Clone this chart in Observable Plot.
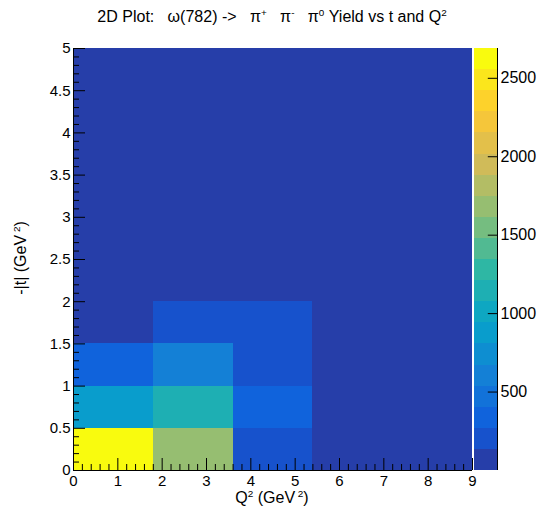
<!DOCTYPE html>
<html>
<head>
<meta charset="utf-8">
<script src="https://cdn.jsdelivr.net/npm/d3@7"></script>
<script src="https://cdn.jsdelivr.net/npm/@observablehq/plot@0.6"></script>
<style>
  html, body { margin: 0; padding: 0; background: #fff; }
  #wrap { position: relative; width: 541px; height: 509px; font-family: "Liberation Sans", Arial, sans-serif; color: #000; overflow: hidden; }
  #wrap svg { position: absolute; left: 0; top: 0; }
  .lbl { position: absolute; white-space: pre; line-height: 1; }
  .lbl sup { font-size: 0.62em; vertical-align: 0.6em; line-height: 0; }
</style>
</head>
<body>
<div id="wrap">
  <div class="lbl" id="title" style="left:272px; top:17px; transform:translate(-50%,-50%); font-size:16px;">2D Plot:   ω(782) -&gt;   π<sup>+</sup>   π<sup>-</sup>   π<sup>0</sup> Yield vs t and Q<sup>2</sup></div>
  <div class="lbl" id="xlabel" style="left:272px; top:498px; transform:translate(-50%,-50%); font-size:16px;">Q<sup>2</sup> (GeV<sup> 2</sup>)</div>
  <div class="lbl" id="ylabel" style="left:21px; top:258px; transform:translate(-50%,-50%) rotate(-90deg); font-size:16px;">-|t| (GeV<sup> 2</sup>)</div>
</div>
<script>
// ---- data ----
const qEdges = [0, 1.8, 3.6, 5.4, 7.2, 9];
const tEdges = [0, 0.5, 1, 1.5, 2, 2.5, 3, 3.5, 4, 4.5, 5];
// yields[tBin][qBin]
const yields = [
  [2690, 1690, 210, 0, 0],
  [870, 1150, 340, 0, 0],
  [330, 600, 190, 0, 0],
  [0, 180, 170, 0, 0],
  [0, 0, 0, 0, 0],
  [0, 0, 0, 0, 0],
  [0, 0, 0, 0, 0],
  [0, 0, 0, 0, 0],
  [0, 0, 0, 0, 0],
  [0, 0, 0, 0, 0]
];
const xMajor = [0, 1, 2, 3, 4, 5, 6, 7, 8, 9];
const yMajor = [0, 0.5, 1, 1.5, 2, 2.5, 3, 3.5, 4, 4.5, 5];
const zTicks = [500, 1000, 1500, 2000, 2500];
const nContours = 20;

// ---- palette (ROOT kBird) ----
const birdStops = [0, 0.125, 0.25, 0.375, 0.5, 0.625, 0.75, 0.875, 1];
const birdR = [0.2082, 0.0592, 0.0780, 0.0232, 0.1802, 0.5301, 0.8186, 0.9956, 0.9764];
const birdG = [0.1664, 0.3599, 0.5041, 0.6419, 0.7178, 0.7492, 0.7328, 0.7862, 0.9832];
const birdB = [0.5293, 0.8684, 0.8385, 0.7914, 0.6425, 0.4662, 0.3499, 0.1968, 0.0539];
function bird(f) {
  let k = 0;
  while (k < birdStops.length - 2 && f > birdStops[k + 1]) k++;
  const t = (f - birdStops[k]) / (birdStops[k + 1] - birdStops[k]);
  const c = (a) => Math.round(255 * (a[k] + (a[k + 1] - a[k]) * t));
  return `rgb(${c(birdR)},${c(birdG)},${c(birdB)})`;
}

const cells = [];
yields.forEach((row, ti) => row.forEach((v, qi) => {
  cells.push({q1: qEdges[qi], q2: qEdges[qi + 1], t1: tEdges[ti], t2: tEdges[ti + 1], v});
}));
const zMax = d3.max(yields.flat());
const step = zMax / nContours;
const thresholds = d3.range(1, nContours).map(i => i * step);
const bandColors = d3.range(nContours).map(i => bird(Math.min(1, (i + 0.99) / nContours)));
const bands = d3.range(nContours).map(i => ({lo: i * step, hi: (i + 1) * step, mid: (i + 0.5) * step}));
const colorOpts = {type: "threshold", domain: thresholds, range: bandColors};

const xMinor = d3.range(0, 45).map(i => i * 0.2).filter(v => Math.abs(v - Math.round(v)) > 1e-6);
const yMinor = d3.range(0, 50).map(i => +(i * 0.1).toFixed(1)).filter(v => Math.abs(v * 2 - Math.round(v * 2)) > 1e-6);

const fmt = d => String(d);
const main = Plot.plot({
  width: 541, height: 509,
  marginLeft: 73, marginRight: 69, marginTop: 48, marginBottom: 39,
  x: {domain: [0, 9], label: null},
  y: {domain: [0, 5], label: null},
  color: colorOpts,
  style: {fontFamily: "'Liberation Sans', Arial, sans-serif", fontSize: "15px", background: "transparent", color: "#000"},
  marks: [
    Plot.rect(cells, {x1: "q1", x2: "q2", y1: "t1", y2: "t2", fill: "v", shapeRendering: "crispEdges"}),
    Plot.axisX({ticks: xMinor, tickSize: -6, tickFormat: () => "", label: null, stroke: "#000"}),
    Plot.axisX({ticks: xMajor, tickSize: -12, tickFormat: () => "", label: null, stroke: "#000"}),
    Plot.axisX({ticks: xMajor, tickSize: 0, tickPadding: 5, tickFormat: fmt, label: null, fontSize: 15}),
    Plot.axisY({ticks: yMinor, tickSize: -6, tickFormat: () => "", label: null, stroke: "#000"}),
    Plot.axisY({ticks: yMajor, tickSize: -12, tickFormat: () => "", label: null, stroke: "#000"}),
    Plot.axisY({ticks: yMajor, tickSize: 0, tickPadding: 3, tickFormat: fmt, label: null, fontSize: 15}),
    Plot.ruleX([0], {stroke: "#000"}),
    Plot.ruleY([0], {stroke: "#000"})
  ]
});

const bar = Plot.plot({
  width: 541, height: 509,
  marginLeft: 474, marginRight: 44, marginTop: 48, marginBottom: 39,
  x: {domain: [0, 1], axis: null},
  y: {domain: [0, zMax], axis: null},
  color: colorOpts,
  style: {fontFamily: "'Liberation Sans', Arial, sans-serif", fontSize: "15px", background: "transparent", color: "#000"},
  marks: [
    Plot.rect(bands, {x1: 0, x2: 1, y1: "lo", y2: "hi", fill: "mid", shapeRendering: "crispEdges"}),
    Plot.ruleX([1], {stroke: "#000"}),
    Plot.ruleY(zTicks, {x1: 0.6, x2: 1, stroke: "#000"}),
    Plot.text(zTicks, {x: 1, y: d => d, text: fmt, dx: 3, textAnchor: "start", fontSize: 16, fill: "#000"})
  ]
});

const wrap = document.getElementById("wrap");
wrap.insertBefore(bar, wrap.firstChild);
wrap.insertBefore(main, wrap.firstChild);
</script>
</body>
</html>
